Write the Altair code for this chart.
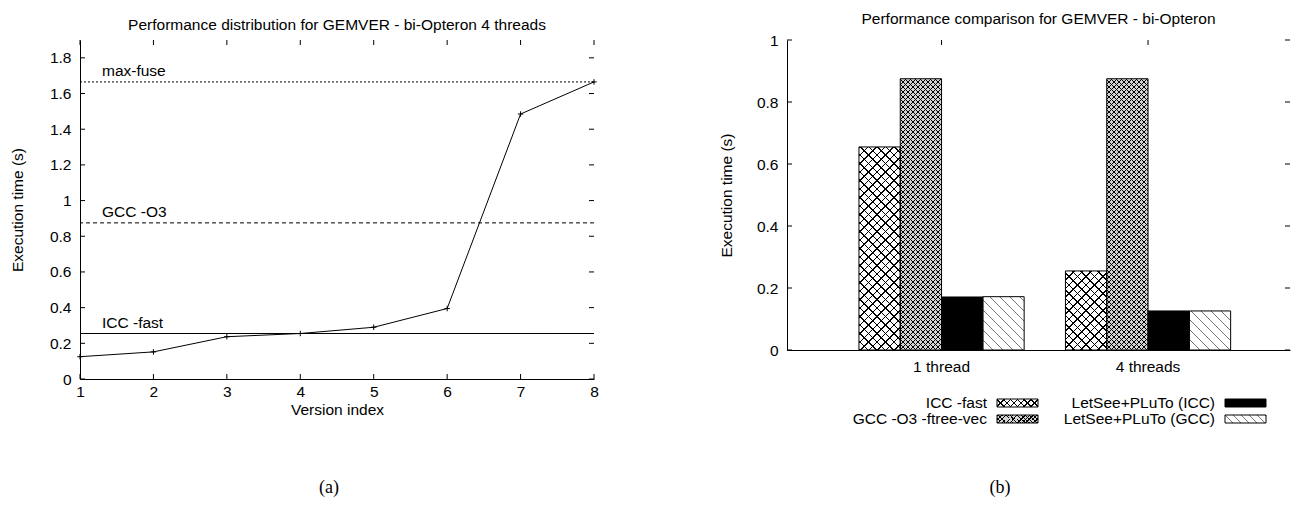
import altair as alt
import pandas as pd

FONT = "Liberation Sans"
FS = 15.5

# ---------------- Left panel data ----------------
VERSIONS = [1, 2, 3, 4, 5, 6, 7, 8]
TIMES = [0.125, 0.152, 0.237, 0.255, 0.290, 0.395, 1.485, 1.665]
REF_NAMES = ["max-fuse", "GCC -O3", "ICC -fast"]
REF_VALUES = [1.665, 0.875, 0.255]
LEFT_X_TICKS = [1, 2, 3, 4, 5, 6, 7, 8]
LEFT_Y_TICKS = [0, 0.2, 0.4, 0.6, 0.8, 1, 1.2, 1.4, 1.6, 1.8]

# ---------------- Right panel data ----------------
THREADS = ["1 thread", "4 threads"]
SERIES = ["ICC -fast", "GCC -O3 -ftree-vec", "LetSee+PLuTo (ICC)", "LetSee+PLuTo (GCC)"]
ICC_FAST = [0.655, 0.255]
GCC_O3 = [0.875, 0.875]
LETSEE_ICC = [0.171, 0.126]
LETSEE_GCC = [0.172, 0.126]
RIGHT_Y_TICKS = [0, 0.2, 0.4, 0.6, 0.8, 1]

# ---------------- styles ----------------
LW, LH = 514, 339
RW, RH = 503, 310
TICK = 5
REF_DASH = {"max-fuse": [2, 2], "GCC -O3": [4, 3], "ICC -fast": [1, 0]}
BASE_FILL = {"ICC -fast": "white", "GCC -O3 -ftree-vec": "#d4d4d4",
             "LetSee+PLuTo (ICC)": "black", "LetSee+PLuTo (GCC)": "white"}
HATCH = {
    "ICC -fast": [("/", 8.5, 1.3, "black"), ("\\", 8.5, 1.3, "black")],
    "GCC -O3 -ftree-vec": [("/", 5.0, 1.0, "black"), ("\\", 5.0, 1.0, "black")],
    "LetSee+PLuTo (ICC)": [],
    "LetSee+PLuTo (GCC)": [("\\", 10.0, 1.0, "#777777")],
}
CLEAR = "rgba(255,255,255,0)"


def stripes(w, h, direction, period, thick, color):
    span = w + h
    k = span / (w * w + h * h)
    if direction == "/":
        x1, y1, x2, y2 = 0, 0, k * w, k * h
    else:
        x1, y1, x2, y2 = 0, 1, k * w, 1 - k * h
    stops = []
    i = 0
    while i * period < span:
        a = i * period / span
        b = min(1.0, (i * period + thick) / span)
        c = min(1.0, (i + 1) * period / span)
        stops += [{"offset": a, "color": color}, {"offset": b, "color": color},
                  {"offset": b, "color": CLEAR}, {"offset": c, "color": CLEAR}]
        i += 1
    return {"gradient": "linear", "x1": x1, "y1": y1, "x2": x2, "y2": y2, "stops": stops}


# ================= LEFT PANEL =================
lx_scale = alt.Scale(domain=[1, 8], nice=False, zero=False)
ly_scale = alt.Scale(domain=[0, 1.9], nice=False, zero=True)
lx_axis = alt.Axis(values=LEFT_X_TICKS, ticks=False, grid=False, labelPadding=5,
                   title="Version index", titlePadding=3, format="d", labelFlush=False)
ly_axis = alt.Axis(values=LEFT_Y_TICKS, ticks=False, grid=False, labelPadding=9,
                   title="Execution time (s)", titlePadding=24, format="~g")


def LX(f):
    return alt.X(f, type="quantitative", scale=lx_scale, axis=lx_axis)


def LY(f):
    return alt.Y(f, type="quantitative", scale=ly_scale, axis=ly_axis)


line_df = pd.DataFrame({"v": VERSIONS, "t": TIMES})
ref_df = pd.DataFrame({"name": REF_NAMES, "t": REF_VALUES})
lyt_df = pd.DataFrame({"t": LEFT_Y_TICKS})
lxt_df = pd.DataFrame({"v": LEFT_X_TICKS})

left_layers = []
for name in REF_NAMES:
    d = ref_df[ref_df["name"] == name]
    left_layers.append(alt.Chart(d).mark_rule(color="black", strokeWidth=1,
                                               strokeDash=REF_DASH[name]).encode(y=LY("t")))
    left_layers.append(alt.Chart(d).mark_text(align="left", baseline="bottom", dy=-3,
                                               font=FONT, fontSize=FS, color="black").encode(
        x=alt.value(22), y=LY("t"), text="name:N"))

left_layers.append(alt.Chart(line_df).mark_line(color="black", strokeWidth=1).encode(x=LX("v"), y=LY("t")))
left_layers.append(alt.Chart(line_df).mark_point(shape="M-1,0L1,0M0,-1L0,1", size=30, filled=False,
                                                 color="black", strokeWidth=1, opacity=1).encode(
    x=LX("v"), y=LY("t")))
# inward ticks (gnuplot style), mirrored
left_layers.append(alt.Chart(lyt_df).mark_rule(color="black").encode(y=LY("t"), x=alt.value(0), x2=alt.value(TICK)))
left_layers.append(alt.Chart(lyt_df).mark_rule(color="black").encode(y=LY("t"), x=alt.value(LW - TICK), x2=alt.value(LW)))
left_layers.append(alt.Chart(lxt_df).mark_rule(color="black").encode(x=LX("v"), y=alt.value(LH), y2=alt.value(LH - TICK)))
left_layers.append(alt.Chart(lxt_df).mark_rule(color="black").encode(x=LX("v"), y=alt.value(0), y2=alt.value(TICK)))
# caption
left_layers.append(alt.Chart(pd.DataFrame({"c": ["(a)"]})).mark_text(
    font="Liberation Serif", fontSize=18, color="black", baseline="middle").encode(
    x=alt.value(249), y=alt.value(448), text="c:N"))

left = alt.layer(*left_layers).properties(
    width=LW, height=LH, title="Performance distribution for GEMVER - bi-Opteron 4 threads")

# ================= RIGHT PANEL =================
rows = []
for ti, t in enumerate(THREADS):
    for s, vals in zip(SERIES, [ICC_FAST, GCC_O3, LETSEE_ICC, LETSEE_GCC]):
        rows.append({"thread": t, "series": s, "time": vals[ti]})
bar_df = pd.DataFrame(rows)

PI, PO, AL = 0.2, 0.318, 0.548
step = RW / (len(THREADS) - PI + 2 * PO)
BW = step * (1 - PI) / len(SERIES)

rx_scale = alt.Scale(domain=THREADS, paddingInner=PI, paddingOuter=PO, align=AL)
ry_scale = alt.Scale(domain=[0, 1], nice=False)
rx_axis = alt.Axis(ticks=False, grid=False, labelPadding=9, labelAngle=0, title=None)
ry_axis = alt.Axis(values=RIGHT_Y_TICKS, ticks=False, grid=False, labelPadding=9,
                   title="Execution time (s)", titlePadding=22, format="~g")


def RX(f="thread"):
    return alt.X(f, type="nominal", scale=rx_scale, axis=rx_axis, sort=THREADS)


def RY(f="time"):
    return alt.Y(f, type="quantitative", scale=ry_scale, axis=ry_axis)


XO = alt.XOffset("series:N", scale=alt.Scale(domain=SERIES, paddingInner=0, paddingOuter=0), sort=SERIES)

right_layers = [
    alt.Chart(bar_df).mark_bar(strokeWidth=0).encode(
        x=RX(), xOffset=XO, y=RY(),
        fill=alt.Fill("series:N", scale=alt.Scale(domain=SERIES, range=[BASE_FILL[s] for s in SERIES]), legend=None))
]
for r in rows:
    h = r["time"] * RH
    for (dr, per, th, col) in HATCH[r["series"]]:
        right_layers.append(
            alt.Chart(bar_df).transform_filter(
                (alt.datum.thread == r["thread"]) & (alt.datum.series == r["series"])
            ).mark_bar(fill=stripes(BW, h, dr, per, th, col), strokeWidth=0).encode(
                x=RX(), xOffset=XO, y=RY()))
right_layers.append(alt.Chart(bar_df).mark_bar(fillOpacity=0, stroke="black", strokeWidth=1).encode(
    x=RX(), xOffset=XO, y=RY()))

ryt_df = pd.DataFrame({"time": RIGHT_Y_TICKS})
rxt_df = pd.DataFrame({"thread": THREADS})
right_layers.append(alt.Chart(ryt_df).mark_rule(color="black").encode(y=RY(), x=alt.value(0), x2=alt.value(TICK)))
right_layers.append(alt.Chart(ryt_df).mark_rule(color="black").encode(y=RY(), x=alt.value(RW - TICK), x2=alt.value(RW)))
right_layers.append(alt.Chart(rxt_df).mark_rule(color="black").encode(
    x=alt.X("thread", type="nominal", scale=rx_scale, axis=rx_axis, sort=THREADS, bandPosition=0.5),
    y=alt.value(0), y2=alt.value(TICK)))

# legend (gnuplot key, 2 columns below the plot)
LEG_POS = {  # series: (text right x, row y, swatch x)
    "ICC -fast": (200, 363, 210),
    "GCC -O3 -ftree-vec": (200, 379, 210),
    "LetSee+PLuTo (ICC)": (428, 363, 438),
    "LetSee+PLuTo (GCC)": (428, 379, 438),
}
SW, SH = 41, 8
for s in SERIES:
    tx, ty, sx = LEG_POS[s]
    d1 = pd.DataFrame({"name": [s]})
    right_layers.append(alt.Chart(d1).mark_text(align="right", baseline="middle", font=FONT, fontSize=FS,
                                                color="black").encode(
        x=alt.value(tx), y=alt.value(ty), text="name:N"))
    right_layers.append(alt.Chart(d1).mark_rect(fill=BASE_FILL[s], strokeWidth=0).encode(
        x=alt.value(sx), x2=alt.value(sx + SW), y=alt.value(ty - SH / 2), y2=alt.value(ty + SH / 2)))
    for (dr, per, th, col) in HATCH[s]:
        right_layers.append(alt.Chart(d1).mark_rect(fill=stripes(SW, SH, dr, per * 0.8, th, col), strokeWidth=0).encode(
            x=alt.value(sx), x2=alt.value(sx + SW), y=alt.value(ty - SH / 2), y2=alt.value(ty + SH / 2)))
    right_layers.append(alt.Chart(d1).mark_rect(fillOpacity=0, stroke="black", strokeWidth=1).encode(
        x=alt.value(sx), x2=alt.value(sx + SW), y=alt.value(ty - SH / 2), y2=alt.value(ty + SH / 2)))

right_layers.append(alt.Chart(pd.DataFrame({"c": ["(b)"]})).mark_text(
    font="Liberation Serif", fontSize=18, color="black", baseline="middle").encode(
    x=alt.value(213), y=alt.value(448), text="c:N"))

right = alt.layer(*right_layers).properties(
    width=RW, height=RH, title="Performance comparison for GEMVER - bi-Opteron")

chart = alt.hconcat(left, right, spacing=120).properties(
    padding={"left": 2, "top": 3, "right": 0, "bottom": 0}
).configure_view(strokeWidth=0).configure_axis(
    labelFont=FONT, titleFont=FONT, labelFontSize=FS, titleFontSize=FS,
    labelColor="black", titleColor="black", domainColor="black", domainWidth=1,
    titleFontWeight="normal"
).configure_title(font=FONT, fontSize=FS, fontWeight="normal", color="black", offset=6, anchor="middle")

chart.save("out.html", embed_options={"renderer": "svg", "actions": False})
